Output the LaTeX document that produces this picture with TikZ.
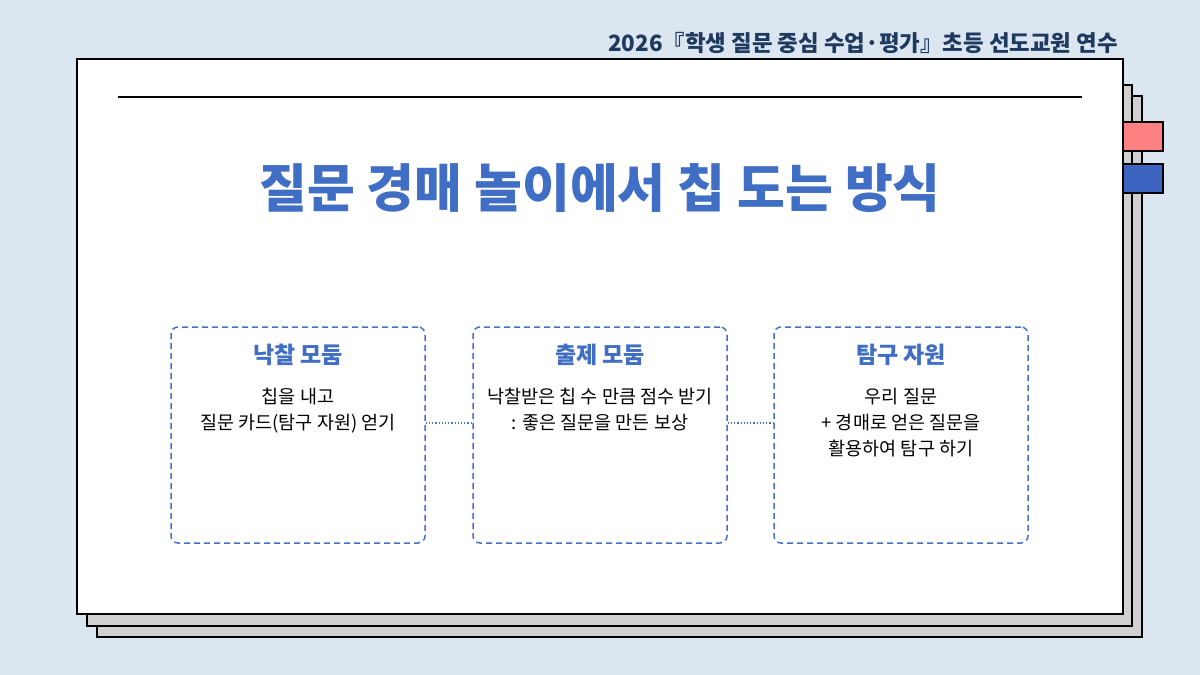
\documentclass[tikz,border=0pt]{standalone}
\usepackage{fontspec}
\setmainfont{Noto Sans CJK KR}
\newfontfamily\kr{Noto Sans CJK KR}
\usetikzlibrary{positioning}
\definecolor{bgc}{HTML}{DCE6F0}
\definecolor{pagegray}{HTML}{D0D0D0}
\definecolor{titleblue}{HTML}{3F6EC4}
\definecolor{navy}{HTML}{1F3A5F}
\definecolor{tabpink}{HTML}{FF8080}
\definecolor{tabblue}{HTML}{3D65BF}
\definecolor{boxblue}{HTML}{4472C4}
\tikzset{
  page/.style={draw=black, line width=2pt},
  stagebox/.style={draw=boxblue, dashed, dash pattern=on 6pt off 4pt, line width=1.5pt, rounded corners=7pt, minimum width=254pt, minimum height=216pt},
  boxtitle/.style={text=titleblue, font=\kr\fontsize{23}{26}\selectfont\bfseries},
  boxbody/.style={text=black, font=\kr\fontsize{18.5}{26}\selectfont, align=center, inner sep=0pt},
  link/.style={draw=boxblue, dotted, line width=1.2pt}
}
\begin{document}
\begin{tikzpicture}[x=1pt,y=-1pt]
\useasboundingbox (0,0) rectangle (1200,675);
\fill[bgc] (0,0) rectangle (1200,675);
% stacked pages
\draw[page, fill=pagegray] (97,96) rectangle (1142,637);
\draw[page, fill=pagegray] (87,85) rectangle (1132,626);
% tabs
\draw[page, fill=tabpink] (1110,122) rectangle (1163,151);
\draw[page, fill=tabblue] (1110,164) rectangle (1163,193);
% main page
\draw[page, fill=white] (77,59) rectangle (1123,614);
% header
\node[anchor=east, text=navy, font=\kr\fontsize{22.4}{26}\selectfont\bfseries, inner sep=0pt] (hdr) at (1118,43) {2026『학생 질문 중심 수업·평가』초등 선도교원 연수};
% rule
\draw[line width=2pt] (118,97) -- (1082,97);
% title
\node[text=titleblue, font=\kr\fontsize{52}{58}\selectfont\bfseries, inner sep=0pt] (title) at (600,188) {질문 경매 놀이에서 칩 도는 방식};
% boxes
\node[stagebox] (b1) at (298,435) {};
\node[stagebox] (b2) at (600,435) {};
\node[stagebox] (b3) at (901,435) {};
\node[boxtitle] (t1) at (298,355) {낙찰 모둠};
\node[boxtitle] (t2) at (600,355) {출제 모둠};
\node[boxtitle] (t3) at (901,355) {탐구 자원};
\node[boxbody, anchor=north] (d1) at (298,388) {칩을 내고\\질문 카드(탐구 자원) 얻기};
\node[boxbody, anchor=north] (d2) at (600,388) {낙찰받은 칩 수 만큼 점수 받기\\: 좋은 질문을 만든 보상};
\node[boxbody, anchor=north] (d3) at (901,388) {우리 질문\\+ 경매로 얻은 질문을\\활용하여 탐구 하기};
% connectors
\coordinate (c1a) at ([yshift=12pt]b1.east);
\coordinate (c1b) at ([yshift=12pt]b2.west);
\coordinate (c2a) at ([yshift=12pt]b2.east);
\coordinate (c2b) at ([yshift=12pt]b3.west);
\draw[link] (c1a) -- (c1b);
\draw[link] (c2a) -- (c2b);
\end{tikzpicture}
\end{document}
